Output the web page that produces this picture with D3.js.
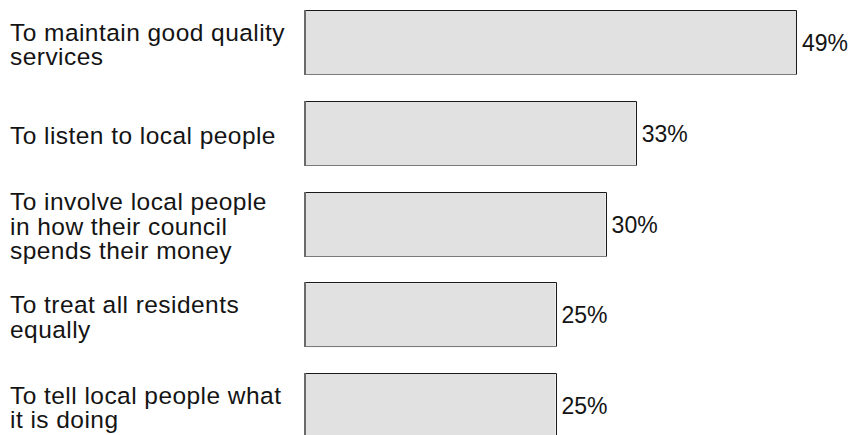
<!DOCTYPE html>
<html>
<head>
<meta charset="utf-8">
<script src="https://cdn.jsdelivr.net/npm/d3@7"></script>
<style>
  html, body { margin: 0; padding: 0; background: #ffffff; }
  svg { display: block; }
  text { font-family: "Liberation Sans", Arial, sans-serif; fill: #141414; }
</style>
</head>
<body>
<svg id="chart" width="853" height="435"></svg>
<script>
// Survey answers: what residents think their council should prioritise
const categories = [
  "To maintain good quality services",
  "To listen to local people",
  "To involve local people in how their council spends their money",
  "To treat all residents equally",
  "To tell local people what it is doing"
];
const labelLines = [
  ["To maintain good quality", "services"],
  ["To listen to local people"],
  ["To involve local people", "in how their council", "spends their money"],
  ["To treat all residents", "equally"],
  ["To tell local people what", "it is doing"]
];
const values = [49, 33, 30, 25, 25];

const svg = d3.select("#chart");

const x = d3.scaleLinear().domain([0, 50]).range([305, 806]);
const y = d3.scaleBand().domain(categories).range([11, 438])
  .paddingInner(0.295).paddingOuter(0);

const rows = svg.selectAll("g.row")
  .data(categories.map((c, i) => ({ c, v: values[i], lines: labelLines[i] })))
  .join("g").attr("class", "row");

// bar body
rows.append("rect")
  .attr("x", x(0))
  .attr("y", d => y(d.c))
  .attr("width", d => x(d.v) - x(0))
  .attr("height", y.bandwidth())
  .attr("fill", "#e1e1e1");

// top and right edges in black
rows.append("path")
  .attr("d", d => {
    const x0 = x(0), x1 = Math.round(x(d.v)) + 0.5, y0 = Math.round(y(d.c)) - 0.5,
          y1 = y0 + y.bandwidth();
    return `M${x0},${y0}H${x1}V${y1}`;
  })
  .attr("fill", "none").attr("stroke", "#1a1a1a").attr("stroke-width", 1);

// bottom edge in grey
rows.append("line")
  .attr("x1", x(0))
  .attr("x2", d => Math.round(x(d.v)) + 1)
  .attr("y1", d => Math.round(y(d.c)) - 0.5 + y.bandwidth())
  .attr("y2", d => Math.round(y(d.c)) - 0.5 + y.bandwidth())
  .attr("stroke", "#7a7a7a").attr("stroke-width", 1.2);

// left edge in darker grey
rows.append("line")
  .attr("x1", x(0)).attr("x2", x(0))
  .attr("y1", d => Math.round(y(d.c)) - 1)
  .attr("y2", d => Math.round(y(d.c)) + y.bandwidth())
  .attr("stroke", "#6a6a6a").attr("stroke-width", 2);

// value labels
rows.append("text")
  .attr("x", d => x(d.v) + 6)
  .attr("y", d => y(d.c) + y.bandwidth() / 2 + 8)
  .attr("font-size", 23)
  .text(d => d.v + "%");

// wrapped category labels
const lineH = 24.5;
rows.append("text")
  .attr("font-size", 24.5)
  .attr("letter-spacing", 0.45)
  .each(function (d) {
    const n = d.lines.length;
    const mid = y(d.c) + y.bandwidth() / 2 + 10;
    d3.select(this).selectAll("tspan")
      .data(d.lines)
      .join("tspan")
      .attr("x", 10)
      .attr("y", (t, i) => mid + (i - (n - 1) / 2) * lineH)
      .text(t => t);
  });
</script>
</body>
</html>
